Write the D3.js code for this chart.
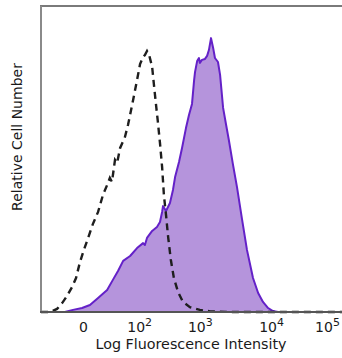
<!DOCTYPE html>
<html><head><meta charset="utf-8">
<script src="https://cdn.jsdelivr.net/npm/d3@7"></script>
<style>body{margin:0;background:#fff}svg{display:block}</style>
</head><body>
<svg id="c" width="342" height="358"></svg>
<script>
// channel (biexponential display scale, 0-1000) vs relative count (0-100)
const stainedX = [79,106,136,162,189,219,238,255,272,295,318,338,344,351,368,384,394,401,404,414,427,437,444,457,467,480,490,500,507,510,517,523,526,533,543,550,556,563,570,576,586,593,603,613,622,636,649,666,682,702,719,735,752,768,785];
const stainedY = [0,0.7,1.3,2.3,4.6,7.2,10.5,13.4,16.7,18.3,20.9,22.5,21.9,24.2,26.5,27.8,29.4,32.7,34.6,33.0,35.6,39.9,44.1,49.0,53.6,60.1,64.4,68.0,75.8,78.4,82.0,83.0,81.4,82.4,82.7,83.7,85.6,89.5,86.3,83.0,81.7,77.5,66.7,61.1,56.2,48.0,40.8,30.1,20.3,11.1,6.2,3.3,1.3,0.3,0];
const controlX = [0,30,53,70,86,103,116,129,142,156,172,189,205,219,228,235,245,252,262,278,288,295,305,318,328,338,344,351,358,368,374,381,387,394,401,407,414,421,430,440,454,470,493,526,560,626,1000];
const controlY = [0,0,1,2.9,5.2,8.2,11.1,16.3,20.3,24.2,28.8,32.7,38.2,41.5,43.8,42.5,49.7,48.7,53.6,57.2,61.1,64.4,69.3,75.8,81.0,83.3,84.0,85.3,84.0,80.1,74.2,67.6,62.1,55.2,47.4,38.2,31.7,24.5,17.0,11.1,6.5,3.3,1.6,0.7,0.2,0,0];
const tickValues = [139,325,526,762,947];
const tickBases = ["0","10","10","10","10"];
const tickExps = ["","2","3","4","5"];
const xTitle = "Log Fluorescence Intensity";
const yTitle = "Relative Cell Number";

const svg = d3.select("#c");
const L = 41, R = 343, T = 6, B = 312;
const x = d3.scaleLinear().domain([0,1000]).range([L,R]);
const y = d3.scaleLinear().domain([0,100]).range([B,T]);

const stained = stainedX.map((v,i)=>[v,stainedY[i]]);
const control = controlX.map((v,i)=>[v,controlY[i]]);

svg.append("path").datum(stained)
  .attr("fill","#b594dc")
  .attr("d", d3.area().x(d=>x(d[0])).y0(y(0)).y1(d=>y(d[1])));
svg.append("path").datum(stained)
  .attr("fill","none").attr("stroke","#6421c8").attr("stroke-width",2).attr("stroke-linejoin","round")
  .attr("d", d3.line().x(d=>x(d[0])).y(d=>y(d[1])));
svg.append("path").datum(control)
  .attr("fill","none").attr("stroke","#1e1e1e").attr("stroke-width",2.4)
  .attr("stroke-dasharray","7,5")
  .attr("d", d3.line().x(d=>x(d[0])).y(d=>y(d[1])));

// frame
svg.append("line").attr("x1",L-1).attr("x2",342).attr("y1",T).attr("y2",T).attr("stroke","#7a7a7a").attr("stroke-width",2);
svg.append("line").attr("x1",L).attr("x2",L).attr("y1",T).attr("y2",B).attr("stroke","#8a8a8a").attr("stroke-width",2);
svg.append("line").attr("x1",L-1).attr("x2",342).attr("y1",B).attr("y2",B).attr("stroke","#555").attr("stroke-width",2);

const font = "DejaVu Sans, Verdana, sans-serif";
// x axis
const ax = svg.append("g").attr("transform",`translate(0,${B})`)
  .call(d3.axisBottom(x).tickValues(tickValues).tickSize(0).tickFormat(""));
ax.select(".domain").remove();
ax.selectAll(".tick").each(function(d,i){
  const t = d3.select(this).append("text")
    .attr("y",20).attr("fill","#1a1a1a").attr("text-anchor","middle")
    .style("font-family",font).style("font-size","14px");
  t.append("tspan").text(tickBases[i]);
  if (tickExps[i]) t.append("tspan").attr("dy",-6).style("font-size","11px").text(tickExps[i]);
});

svg.append("text").attr("x",191).attr("y",349).attr("text-anchor","middle")
  .attr("fill","#1a1a1a").style("font-family",font).style("font-size","14.3px")
  .text(xTitle);
svg.append("text").attr("transform","translate(22,137) rotate(-90)").attr("text-anchor","middle")
  .attr("fill","#1a1a1a").style("font-family",font).style("font-size","14px")
  .text(yTitle);
</script>
</body></html>
